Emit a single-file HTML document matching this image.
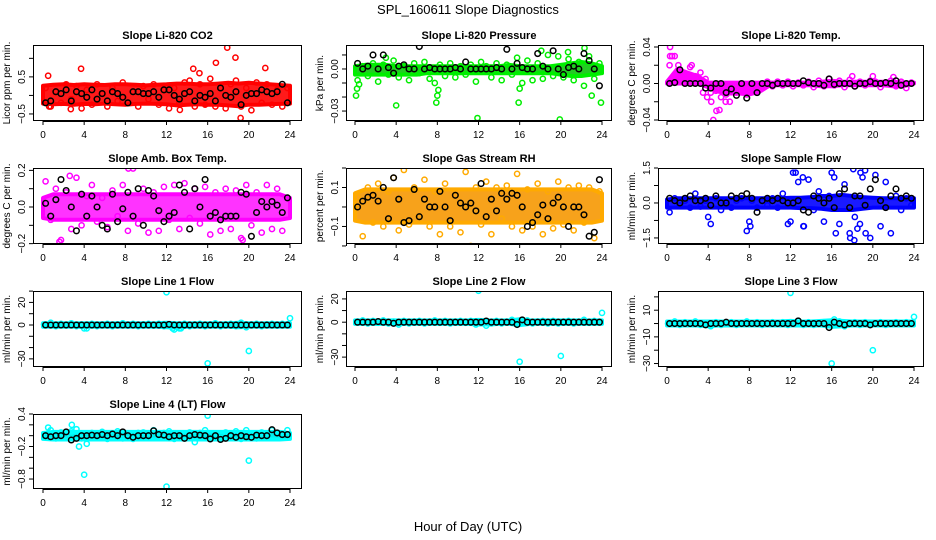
<!DOCTYPE html>
<html><head><meta charset="utf-8"><style>
html,body{margin:0;padding:0;background:#fff;}
svg{display:block;font-family:"Liberation Sans",Arial,sans-serif;}
</style></head><body>
<svg id="chart" width="936" height="540" viewBox="0 0 936 540">
<rect x="0" y="0" width="936" height="540" fill="#fff"/>
<text x="468" y="14" font-size="13" text-anchor="middle">SPL_160611  Slope Diagnostics</text>
<text x="468" y="531" font-size="13" text-anchor="middle">Hour of Day (UTC)</text>
</svg>
<script>
// ---------- data ----------
const xTicks = [0,4,8,12,16,20,24];

const co2Pts = [0.2,-0.3,0.1,-0.2,0.3,-0.1,0.25,-0.35,0.15,-0.25,0.3,0.05,-0.3,0.2,-0.15,0.35,-0.2,0.1,-0.3,0.25,-0.1,0.3,-0.25,0.15,-0.35,0.2,-0.2,0.35,0.4,-0.3,0.3,-0.25,0.45,-0.3,0.2,-0.35,0.3,0.4,-0.3,0.2,-0.4,0.35,-0.2,0.3,-0.25,0.15,-0.3,0.2];
const co2Blk = [-0.2,-0.15,0.1,0.05,0.15,-0.15,0.1,0.05,-0.05,0.15,-0.1,0.05,-0.15,0.1,0.05,-0.05,-0.2,0.1,0.1,0.05,0.05,0.1,-0.05,0.15,0.15,0.0,-0.1,0.05,0.1,-0.15,0.0,-0.05,0.05,-0.15,0.2,0.0,-0.05,0.1,-0.25,0.0,0.05,0.05,0.15,0.1,0.05,0.1,0.3,-0.2];
const co2Lo = [-0.22,-0.24,-0.23,-0.25,-0.23,-0.24,-0.22,-0.24,-0.25,-0.23,-0.22,-0.23,-0.24,-0.27,-0.25,-0.24,-0.25,-0.25,-0.27,-0.29,-0.25,-0.25,-0.24,-0.23,-0.22];
const co2Hi = [0.26,0.29,0.3,0.28,0.3,0.29,0.28,0.3,0.3,0.29,0.27,0.29,0.3,0.32,0.32,0.3,0.3,0.32,0.34,0.32,0.34,0.32,0.3,0.28,0.26];
const co2Out = [[0.5,0.53],[3.7,0.72],[14.6,0.72],[15.2,0.6],[16.8,0.88],[17.9,1.29],[18.7,1.02],[19.2,-0.61],[13.3,-0.39],[21.6,0.74],[2.7,-0.37],[0.6,-0.3]];

const presPts = [-0.008,0.002,-0.005,0.004,-0.009,0.003,-0.004,0.006,-0.006,0.002,-0.008,0.004,-0.003,0.005,-0.007,-0.010,0.003,-0.005,0.004,-0.006,0.002,-0.004,0.003,-0.009,0.005,0.002,-0.006,0.004,-0.008,0.003,-0.004,0.008,-0.010,0.006,-0.008,0.004,-0.007,0.010,-0.005,0.009,-0.006,0.007,-0.008,0.005,-0.012,0.009,-0.007,0.004];
const presBlk = [0.004,0.0,0.002,0.010,0.000,0.010,0.001,-0.003,0.002,0.003,0.000,0.0,0.016,0.000,0.001,0.0,0.0,0.000,0.0,0.001,0.000,0.005,0.000,0.0,0.000,0.0,0.000,0.001,0.0,0.014,0.0,0.004,0.001,0.0,0.0,0.011,0.002,0.0,0.013,0.0,-0.004,0.001,0.002,0.0,0.011,0.006,0.000,-0.012];
const presLo = [-0.004,-0.004,-0.004,-0.004,-0.004,-0.004,-0.004,-0.003,-0.003,-0.003,-0.003,-0.003,-0.003,-0.003,-0.003,-0.003,-0.003,-0.003,-0.003,-0.003,-0.004,-0.005,-0.005,-0.004,-0.003];
const presHi = [0.002,0.003,0.003,0.003,0.002,0.002,0.002,0.002,0.002,0.002,0.002,0.002,0.002,0.002,0.002,0.003,0.002,0.002,0.002,0.002,0.003,0.004,0.005,0.004,0.002];
const presOut = [[0.1,-0.019],[0.2,-0.014],[0.4,-0.011],[4,-0.026],[7.9,-0.024],[8,-0.019],[8.1,-0.015],[11.9,-0.035],[15.9,-0.024],[16,-0.014],[19.9,-0.036],[23.9,-0.024],[23,-0.019],[3,0.008],[22.3,0.015],[18.1,0.013],[20.7,0.012]];

const tempPts = [0.02,0.03,0.015,0.01,0.018,0.008,0.012,0.005,-0.01,-0.008,-0.015,-0.012,-0.008,-0.01,-0.006,-0.012,-0.005,-0.01,-0.002,0.002,-0.003,0.002,-0.002,0.002,-0.003,0.001,-0.002,0.002,-0.004,0.003,-0.003,0.005,-0.002,0.003,-0.004,0.004,-0.003,0.002,-0.002,0.003,0.002,-0.004,0.001,0.003,-0.003,0.002,-0.005,0.001];
const tempBlk = [0,0.001,0.015,0,0,0,0,-0.005,-0.005,0,0,-0.01,-0.006,-0.013,0,-0.016,0,-0.01,0,0,-0.002,0,0,0,0,0,0.003,0.001,0,0,-0.002,0.005,-0.001,0,0,0,-0.003,0,0,0.002,0,0,0.001,0,0.003,-0.002,0,0];
const tempLo = [0,0,0,0,-0.004,-0.009,-0.011,-0.011,-0.012,-0.009,-0.002,-0.002,-0.002,-0.002,-0.002,-0.003,-0.003,-0.002,-0.002,-0.002,-0.002,-0.002,-0.003,-0.003,0];
const tempHi = [0.002,0.016,0.012,0.008,0.001,0.001,0.001,0.001,0.001,0.001,0.001,0.001,0.001,0.001,0.001,0.002,0.003,0.002,0.002,0.002,0.002,0.002,0.002,0.001,0.001];
const tempOut = [[0.3,0.04],[0.3,0.03],[0.5,0.03],[1.1,0.02],[2.4,0.02],[3.9,-0.015],[4.3,-0.02],[4.5,-0.04],[4.8,-0.03],[5.1,-0.029],[5.7,-0.02],[6.1,-0.02],[20,0.008],[18,0.008],[22,0.007],[3.5,-0.01]];

const ambPts = [0.14,-0.07,0.1,-0.18,0.08,-0.12,0.16,-0.1,0.06,0.12,-0.08,0.05,-0.11,0.09,-0.05,0.12,-0.13,0.21,-0.09,0.1,-0.14,0.08,-0.13,0.11,-0.07,0.12,-0.12,0.13,-0.06,0.1,-0.09,0.11,-0.15,0.08,-0.13,0.1,-0.12,0.09,-0.17,0.12,-0.1,0.08,-0.14,0.12,-0.12,0.1,-0.13,0.05];
const ambBlk = [0.02,-0.05,0.04,0.15,0.09,0.0,-0.13,0.07,-0.05,0.06,0.0,-0.1,-0.12,0.07,-0.08,-0.01,0.08,-0.05,0.1,-0.1,0.09,0.06,-0.02,-0.08,-0.05,-0.03,0.12,0.08,-0.12,0.1,0.0,0.15,-0.05,-0.03,-0.07,-0.05,-0.05,-0.05,0.08,0.07,-0.16,-0.03,0.03,0.0,0.03,0.01,-0.03,0.05];
const ambLo = [-0.06,-0.07,-0.07,-0.07,-0.07,-0.07,-0.07,-0.07,-0.07,-0.07,-0.07,-0.07,-0.07,-0.07,-0.07,-0.07,-0.07,-0.07,-0.07,-0.07,-0.07,-0.07,-0.07,-0.07,-0.06];
const ambHi = [0.05,0.07,0.07,0.07,0.07,0.07,0.07,0.07,0.07,0.07,0.07,0.07,0.07,0.07,0.07,0.07,0.07,0.07,0.07,0.07,0.07,0.07,0.07,0.07,0.05];
const ambOut = [[1.6,-0.19],[8.3,0.21],[2.6,0.17],[19.4,-0.18]];

const rhPts = [0.05,-0.15,0.1,-0.08,0.12,-0.1,0.08,0.15,-0.12,0.19,-0.09,0.1,-0.05,0.14,-0.1,0.08,-0.14,0.12,-0.1,0.06,-0.13,0.18,-0.2,0.1,-0.09,0.13,-0.14,0.1,-0.06,0.11,-0.1,0.17,-0.12,0.09,-0.1,0.12,-0.14,0.08,-0.11,0.13,-0.09,0.1,-0.12,0.11,-0.08,0.1,-0.16,0.08];
const rhBlk = [0.0,0.03,0.05,0.06,0.03,0.1,-0.06,0.15,0.04,-0.08,-0.07,0.09,-0.05,0.04,0.0,0.0,0.08,0.0,-0.07,0.06,0.02,0.0,0.02,-0.02,0.12,-0.05,0.04,-0.02,0.07,0.04,0.07,0.06,0.0,-0.1,-0.08,-0.04,0.01,-0.06,0.02,0.05,0.0,-0.1,0.0,0.0,-0.04,-0.15,-0.13,0.14];
const rhLo = [-0.07,-0.08,-0.08,-0.08,-0.08,-0.08,-0.08,-0.08,-0.08,-0.08,-0.08,-0.08,-0.08,-0.08,-0.08,-0.08,-0.08,-0.08,-0.08,-0.08,-0.08,-0.08,-0.08,-0.08,-0.07];
const rhHi = [0.07,0.09,0.09,0.09,0.09,0.09,0.09,0.09,0.09,0.09,0.09,0.09,0.09,0.09,0.09,0.09,0.09,0.09,0.09,0.09,0.09,0.09,0.09,0.09,0.07];
const rhOut = [];

const flowPts = [-0.4,0.2,-0.1,0.1,-0.2,0.4,-0.15,0.1,-0.9,0.2,-0.3,0.1,-0.2,0.1,0.2,-1.2,0.1,-0.2,0.1,-0.1,0.2,-0.2,0.4,-0.9,1.3,0.9,-1.0,1.0,-0.3,0.5,-0.8,0.3,1.1,-0.9,0.8,-1.3,-0.6,-0.9,1.4,-1.5,1.2,-1.0,0.9,-1.3,0.3,-0.3,0.2,-0.1];
const flowBlk = [0.2,0.1,0.0,0.2,0.3,0.1,0.1,0.2,-0.1,0.3,0.0,0.0,0.3,0.2,0.3,0.4,0.2,-0.4,0.1,0.2,0.1,0.2,0.1,0.0,0.0,0.1,-0.3,-0.4,0.3,0.2,0.0,0.2,-0.2,0.4,0.6,-0.2,0.3,0.3,-0.1,0.6,1.0,0.1,-0.2,0.3,0.6,0.2,0.3,0.2];
const flowLo = [-0.2,-0.2,-0.2,-0.2,-0.2,-0.2,-0.2,-0.2,-0.2,-0.2,-0.2,-0.2,-0.2,-0.22,-0.22,-0.25,-0.3,-0.3,-0.3,-0.25,-0.2,-0.2,-0.2,-0.2,-0.2];
const flowHi = [0.15,0.2,0.2,0.2,0.2,0.2,0.2,0.2,0.2,0.2,0.2,0.2,0.22,0.22,0.25,0.3,0.3,0.35,0.3,0.25,0.22,0.2,0.2,0.2,0.2];
const flowOut = [[12.5,1.3],[13.2,1.1],[16,1.3],[18.1,1.45],[18.8,1.3],[19,1.1],[17.8,-1.5],[18.2,-1.6],[16.4,-1.3],[13.3,-1.0],[8,-0.8],[8.1,-1.0],[4,-0.6],[12,-0.8],[19.3,-1.3],[18.5,-1.1]];

const l1Pts = [0.5,2,-1,1,-0.5,1.5,-1,0.5,-3,1,-1,0.5,1,-1,0.5,1.5,-0.5,1,-1,0.5,1,-0.5,1,-1,0.5,-4,-3,1,-1,0.5,1,-1,0.5,1.5,-1,0.5,1,-1,2,-2,0.5,1,-1,0.5,1,-0.5,1,0.5];
const l1Blk = [0,0,0,0,0,0,0,0,0,0,0,0,0,0,0,0,0,0,0,0,0,0,0,0,0.5,0,0,0,0,0,0,0,0,0,0,0,0,0,0,0,0,0,0,0,0,0,0,0];
const l1Lo = [-1.5,-1.5,-1.5,-1.5,-1.8,-1.5,-1.5,-1.5,-1.5,-1.5,-1.5,-1.5,-2,-2.5,-1.5,-1.5,-1.5,-1.5,-1.5,-2,-1.5,-1.5,-1.5,-1.5,-1.5];
const l1Hi = [1.5,1.5,1.5,1.5,1.5,1.5,1.5,1.5,1.5,1.5,1.5,1.5,2,1.5,1.5,1.5,1.5,1.5,1.5,2,1.5,1.5,1.5,1.5,1.5];
const l1Out = [[12,29],[16,-34],[20,-23],[24,6],[12.6,-3],[13.4,-3],[4,-3],[0.1,0.5]];

const l2Pts = [0.5,1.5,-1,1,-0.5,1.5,-1,0.5,-2,1,-1,0.5,1,-1,0.5,1.5,-0.5,1,-1,0.5,1,-0.5,1,-2,0.5,-3,-1,1,-1,0.5,2,-1,0.5,1.5,-1,0.5,1,-1,1,-1,0.5,1,-1,0.5,2,-0.5,1,0.5];
const l2Blk = [0,0,0,0,0.5,0,0,-1,0,0,0,0,0,0,0,0,0,0,0,0,0,0,0,0,0,1,0,0,0,0,0,-2,2,0,0,0,0,0,0,0,0,0,0,0,0,0,0,0];
const l2Lo = [-1.5,-1.5,-1.5,-1.5,-1.8,-1.5,-1.5,-1.5,-1.5,-1.5,-1.5,-1.5,-2,-2,-1.5,-1.5,-2.5,-1.5,-1.5,-1.5,-1.5,-1.5,-1.5,-1.5,-1.5];
const l2Hi = [1.5,1.5,1.5,1.5,1.5,1.5,1.5,1.5,1.5,1.5,1.5,1.5,2,1.5,1.5,1.5,2.5,1.5,1.5,1.5,1.5,1.5,1.5,1.5,1.5];
const l2Out = [[12,27],[16,-34],[20,-29],[24,8]];

const l3Pts = [0.5,1.5,-1,1,-0.5,1.5,-1,0.5,-2,1,-1,0.5,1,-1,0.5,1.5,-0.5,1,-1,0.5,1,-0.5,1,-1,0.5,2,-1,1,-1,0.5,1,-1,3,1.5,-2,0.5,1,-1,1,-1,0.5,1,-1,0.5,1,-0.5,1,0.5];
const l3Blk = [0,0,0,0,0,0,0,-1,0,0,0,1,0,0,0,0,0,0,0,0,0,0,0,0,0,2,0,0,0,0,0,-3,1,0,-1,0,0,0,0,-1,0,0,0,0,0,0,0,0];
const l3Lo = [-1.5,-1.5,-1.5,-1.5,-2,-1.5,-1.5,-1.5,-1.5,-1.5,-1.5,-1.5,-1.5,-1.5,-1.5,-1.5,-2.5,-2,-1.5,-1.5,-1.5,-1.5,-1.5,-1.5,-1.5];
const l3Hi = [1.5,1.5,1.5,1.5,1.5,1.5,1.5,1.5,1.5,1.5,1.5,1.5,2,1.5,1.5,2,2.5,2,1.5,1.5,1.5,1.5,1.5,1.5,1.5];
const l3Out = [[12,23],[16,-30],[20,-20],[24,5],[0.1,0]];

const l4Pts = [0.02,0.1,-0.05,0.06,-0.03,0.08,0.12,-0.05,-0.15,0.05,-0.04,0.07,-0.06,0.04,0.08,-0.05,0.03,-0.06,0.05,0.06,-0.04,0.1,-0.03,0.05,0.08,-0.06,0.04,-0.05,0.06,-0.12,0.05,0.1,-0.06,0.04,-0.05,0.06,-0.04,0.08,-0.06,0.1,0.04,-0.05,0.06,-0.04,0.1,0.05,-0.03,0.1];
const l4Blk = [0.0,-0.02,0.0,0.0,0.07,-0.08,-0.05,0.0,0.0,0.01,0.0,0.02,0.0,0.03,0.0,0.07,0.0,-0.03,0.0,0.0,0.0,0.09,0.02,0.01,-0.02,0.0,0.0,-0.05,0.0,0.02,0.01,0.0,-0.06,0.0,-0.07,-0.05,0.0,-0.03,0.0,-0.02,-0.03,0.01,0.0,0.0,0.11,0.05,0.02,0.02];
const l4Lo = [-0.06,-0.07,-0.07,-0.07,-0.07,-0.07,-0.07,-0.07,-0.07,-0.07,-0.07,-0.07,-0.07,-0.07,-0.07,-0.07,-0.07,-0.07,-0.07,-0.07,-0.07,-0.07,-0.07,-0.07,-0.06];
const l4Hi = [0.05,0.07,0.07,0.07,0.07,0.07,0.07,0.07,0.07,0.07,0.07,0.07,0.07,0.07,0.07,0.07,0.07,0.07,0.07,0.07,0.07,0.07,0.07,0.07,0.05];
const l4Out = [[4,-0.72],[12,-0.94],[16,0.37],[20,-0.46],[2.8,0.2],[3.5,-0.2],[0.5,0.15]];

// ---------- layout / drawing ----------
const NS = 'http://www.w3.org/2000/svg';
const svg = document.getElementById('chart');
function mk(tag, attrs, parent){
  const e = document.createElementNS(NS, tag);
  for (const k in attrs) e.setAttribute(k, attrs[k]);
  (parent||svg).appendChild(e);
  return e;
}
const cols = [{L:33,R:302,x0:43,x24:290},{L:346,R:612,x0:355,x24:602},{L:658,R:924,x0:667,x24:914}];
const rows = [{T:45,B:121},{T:168,B:244},{T:291,B:367},{T:414,B:489}];

const panels = [
 {key:'co2',title:'Slope Li-820 CO2',ylab:'Licor ppm per min.',c:0,r:0,ymin:-0.69,ymax:1.36,color:'#ff0000',band:'#ff1a1a',pts:co2Pts,blk:co2Blk,lo:co2Lo,hi:co2Hi,out:co2Out,ticks:[-0.5,0,0.5,1.0],labels:['-0.5','','0.5','']},
 {key:'pressure',title:'Slope Li-820 Pressure',ylab:'kPa per min.',c:1,r:0,ymin:-0.0371,ymax:0.0171,color:'#00ee00',band:'#22cc22',pts:presPts,blk:presBlk,lo:presLo,hi:presHi,out:presOut,ticks:[0.01,0,-0.01,-0.02,-0.03],labels:['','0.00','','','-0.03']},
 {key:'temp',title:'Slope Li-820 Temp.',ylab:'degrees C per min.',c:2,r:0,ymin:-0.0411,ymax:0.0422,color:'#ff00ff',band:'#ff00ff',pts:tempPts,blk:tempBlk,lo:tempLo,hi:tempHi,out:tempOut,ticks:[0.04,0.02,0,-0.02,-0.04],labels:['0.04','','0.00','','-0.04']},
 {key:'amb-box-temp',title:'Slope Amb. Box Temp.',ylab:'degrees C per min.',c:0,r:1,ymin:-0.202,ymax:0.213,color:'#ff00ff',band:'#ff33ff',pts:ambPts,blk:ambBlk,lo:ambLo,hi:ambHi,out:ambOut,ticks:[0.2,0.1,0,-0.1,-0.2],labels:['0.2','','0.0','','-0.2']},
 {key:'gas-stream-rh',title:'Slope Gas Stream RH',ylab:'percent per min.',c:1,r:1,ymin:-0.19,ymax:0.2,color:'#ffaa00',band:'#f7a21b',pts:rhPts,blk:rhBlk,lo:rhLo,hi:rhHi,out:rhOut,ticks:[0.2,0.1,0,-0.1,-0.2],labels:['','0.1','','-0.1','']},
 {key:'sample-flow',title:'Slope Sample Flow',ylab:'ml/min per min.',c:2,r:1,ymin:-1.76,ymax:1.5,color:'#0000ff',band:'#1a1aff',pts:flowPts,blk:flowBlk,lo:flowLo,hi:flowHi,out:flowOut,ticks:[1.5,0.75,0,-0.75,-1.5],labels:['1.5','','0.0','','-1.5']},
 {key:'line1-flow',title:'Slope Line 1 Flow',ylab:'ml/min per min.',c:0,r:2,ymin:-37.2,ymax:30.1,color:'#00ffff',band:'#00f0f0',pts:l1Pts,blk:l1Blk,lo:l1Lo,hi:l1Hi,out:l1Out,ticks:[30,20,10,0,-10,-20,-30],labels:['','20','','0','','','-30']},
 {key:'line2-flow',title:'Slope Line 2 Flow',ylab:'ml/min per min.',c:1,r:2,ymin:-38.5,ymax:26.8,color:'#00ffff',band:'#00f0f0',pts:l2Pts,blk:l2Blk,lo:l2Lo,hi:l2Hi,out:l2Out,ticks:[20,10,0,-10,-20,-30],labels:['20','','0','','','-30']},
 {key:'line3-flow',title:'Slope Line 3 Flow',ylab:'ml/min per min.',c:2,r:2,ymin:-32.6,ymax:24.4,color:'#00ffff',band:'#00f0f0',pts:l3Pts,blk:l3Blk,lo:l3Lo,hi:l3Hi,out:l3Out,ticks:[20,10,0,-10,-20,-30],labels:['','10','','-10','','-30']},
 {key:'line4-flow',title:'Slope Line 4 (LT) Flow',ylab:'ml/min per min.',c:0,r:3,ymin:-0.984,ymax:0.4,color:'#00ffff',band:'#00f0f0',pts:l4Pts,blk:l4Blk,lo:l4Lo,hi:l4Hi,out:l4Out,ticks:[0.4,0.2,0,-0.2,-0.4,-0.6,-0.8],labels:['0.4','','','-0.2','','','-0.8']}
];

panels.forEach(p => {
  const C = cols[p.c], Rw = rows[p.r];
  const xs = v => C.x0 + (C.x24 - C.x0) * v / 24;
  const ys = v => Rw.B - (Rw.B - Rw.T) * (v - p.ymin) / (p.ymax - p.ymin);
  const g = mk('g', {});
  
  
  const clipId = 'clip-' + p.key;
  const cp = mk('clipPath', {id: clipId}, g);
  mk('rect', {x:C.L, y:Rw.T, width:C.R-C.L, height:Rw.B-Rw.T}, cp);
  const marks = mk('g', {'clip-path':'url(#'+clipId+')'}, g);
  
  

  let d = '';
  p.hi.forEach((v,i) => { d += (i ? 'L' : 'M') + xs(i).toFixed(1) + ' ' + ys(v).toFixed(1); });
  for (let i = p.lo.length - 1; i >= 0; i--) d += 'L' + xs(i).toFixed(1) + ' ' + ys(p.lo[i]).toFixed(1);
  const band = mk('path', {d: d + 'Z', fill: p.band, stroke: p.color, 'stroke-width': 4, 'stroke-linejoin':'round'}, marks);
  
  

  p.pts.forEach((v,i) => {
    const c = mk('circle', {cx: xs((i+0.5)*0.5), cy: ys(v), r: 2.6, fill: 'none', stroke: p.color, 'stroke-width': 1.5}, marks);
    
    
  });
  p.out.forEach(o => {
    const c = mk('circle', {cx: xs(o[0]), cy: ys(o[1]), r: 2.6, fill: 'none', stroke: p.color, 'stroke-width': 1.5}, marks);
    
    
  });
  p.blk.forEach((v,i) => {
    const c = mk('circle', {cx: xs((i+0.5)*0.5), cy: ys(v), r: 2.8, fill: 'none', stroke: '#000', 'stroke-width': 1.5}, marks);
    
    
  });

  const fr = mk('rect', {x:C.L+0.5, y:Rw.T+0.5, width:C.R-C.L-1, height:Rw.B-Rw.T-1, fill:'none', stroke:'#000', 'stroke-width':1}, g);
  
  

  const t = mk('text', {x:(C.L+C.R)/2, y:Rw.T-6, 'font-size':11, 'font-weight':'bold', 'text-anchor':'middle'}, g);
  t.textContent = p.title;
  
  

  const xa = mk('g', {}, g);
  
  
  mk('line', {x1:xs(0), x2:xs(24), y1:Rw.B+0.5, y2:Rw.B+0.5, stroke:'#000'}, xa);
  xTicks.forEach(v => {
    mk('line', {x1:xs(v), x2:xs(v), y1:Rw.B, y2:Rw.B+4, stroke:'#000'}, xa);
    const tl = mk('text', {x:xs(v), y:Rw.B+17, 'font-size':10, 'text-anchor':'middle'}, xa);
    tl.textContent = v;
    
    
  });

  const ya = mk('g', {}, g);
  
  
  const tmin = Math.min(...p.ticks), tmax = Math.max(...p.ticks);
  mk('line', {x1:C.L+0.5, x2:C.L+0.5, y1:ys(tmin), y2:ys(tmax), stroke:'#000'}, ya);
  p.ticks.forEach((v,i) => {
    const y = ys(v);
    mk('line', {x1:C.L-4, x2:C.L, y1:y, y2:y, stroke:'#000'}, ya);
    if (p.labels[i]) {
      const tl = mk('text', {x:C.L-8, y:y, 'font-size':10, 'text-anchor':'middle', transform:'rotate(-90 '+(C.L-8)+' '+y+')'}, ya);
      tl.textContent = p.labels[i].replace('-', '\u2212');
      
      
    }
  });
  const yl = mk('text', {x:C.L-23, y:(Rw.T+Rw.B)/2, 'font-size':10, 'text-anchor':'middle', transform:'rotate(-90 '+(C.L-23)+' '+((Rw.T+Rw.B)/2)+')'}, g);
  yl.textContent = p.ylab;
  
  
});
</script>
</body></html>
